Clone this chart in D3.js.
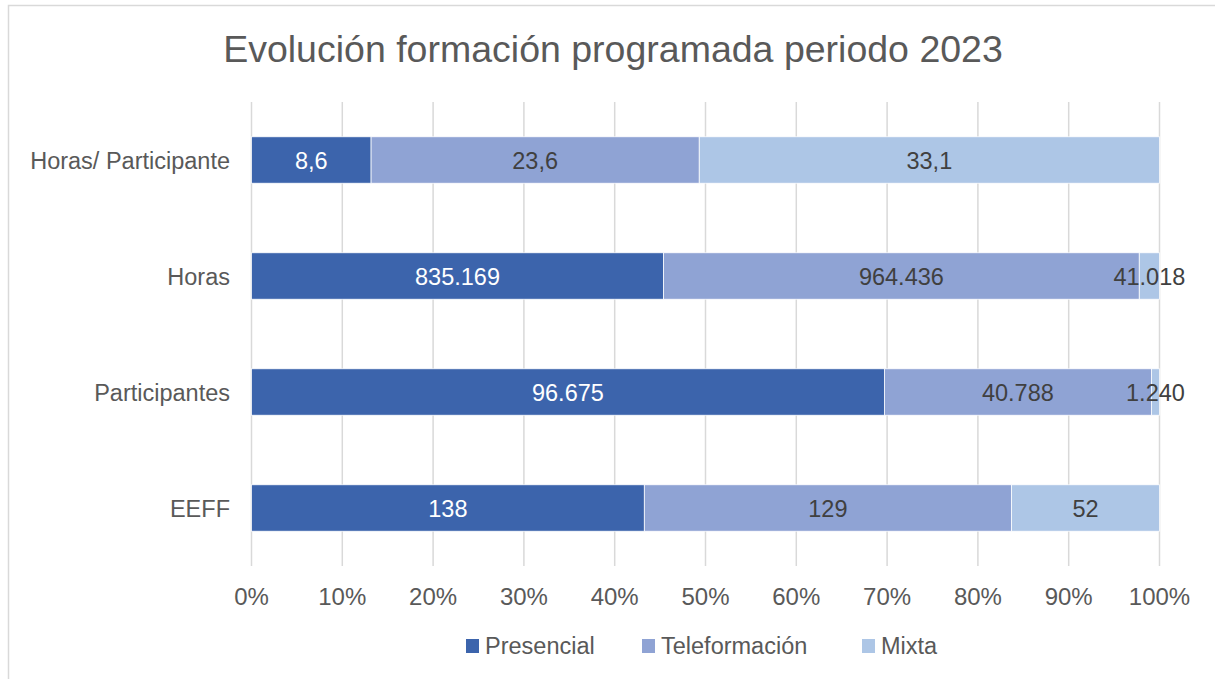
<!DOCTYPE html>
<html>
<head>
<meta charset="utf-8">
<script src="https://cdn.jsdelivr.net/npm/d3@7"></script>
<style>
  body { margin: 0; background: #fff; }
  svg text { font-family: "Liberation Sans", Arial, sans-serif; }
</style>
</head>
<body>
<svg id="chart" width="1215" height="679"></svg>
<script>
// data
var categories = ["Horas/ Participante", "Horas", "Participantes", "EEFF"];
var seriesNames = ["Presencial", "Teleformación", "Mixta"];
var presencial = [8.6, 835169, 96675, 138];
var teleformacion = [23.6, 964436, 40788, 129];
var mixta = [33.1, 41018, 1240, 52];
var tickLabels = ["0%", "10%", "20%", "30%", "40%", "50%", "60%", "70%", "80%", "90%", "100%"];

var colors = ["#3c64ac", "#8fa3d4", "#adc6e6"];
var labelColors = ["#ffffff", "#404040", "#404040"];

var svg = d3.select("#chart");
var margin = {top: 102, left: 251.5, right: 56, bottom: 113};
var width = 1159.5 - margin.left;

var es = d3.formatLocale({decimal: ",", thousands: ".", grouping: [3], currency: ["", "€"]});
function fmt(v) {
    return Number.isInteger(v) ? es.format(",d")(v) : es.format(",.1f")(v);
}

// chart border (only top/left visible in the crop)
svg.append("rect")
    .attr("x", 8.5).attr("y", 5.5)
    .attr("width", 1300).attr("height", 800)
    .attr("fill", "none")
    .attr("stroke", "#d9d9d9")
    .attr("stroke-width", 1.5);

svg.append("text")
    .attr("x", 613).attr("y", 62)
    .attr("text-anchor", "middle")
    .attr("font-size", 37.5)
    .attr("fill", "#595959")
    .text("Evolución formación programada periodo 2023");

var rows = categories.map(function(c, i) {
    return {cat: c, values: [presencial[i], teleformacion[i], mixta[i]]};
});

var x = d3.scaleLinear().domain([0, 1]).range([margin.left, margin.left + width]);
var y = d3.scaleBand().domain(categories).range([102, 566]).paddingInner(0.6).paddingOuter(0.3);

// gridlines
svg.append("g")
    .selectAll("line")
    .data(d3.range(0, 11))
    .enter().append("line")
    .attr("x1", function(d) { return x(d / 10); })
    .attr("x2", function(d) { return x(d / 10); })
    .attr("y1", 102).attr("y2", 566)
    .attr("stroke", "#d9d9d9")
    .attr("stroke-width", 1.5);

// x tick labels
svg.append("g")
    .selectAll("text")
    .data(tickLabels)
    .enter().append("text")
    .attr("x", function(d, i) { return x(i / 10); })
    .attr("y", 605)
    .attr("text-anchor", "middle")
    .attr("font-size", 24)
    .attr("fill", "#595959")
    .text(function(d) { return d; });

// category labels
svg.append("g")
    .selectAll("text")
    .data(categories)
    .enter().append("text")
    .attr("x", 230)
    .attr("y", function(d) { return y(d) + y.bandwidth() / 2 + 8.5; })
    .attr("text-anchor", "end")
    .attr("font-size", 23.5)
    .attr("fill", "#595959")
    .text(function(d) { return d; });

// stacked segments
var segs = [];
rows.forEach(function(r) {
    var total = d3.sum(r.values);
    var acc = 0;
    r.values.forEach(function(v, k) {
        segs.push({cat: r.cat, k: k, v: v, x0: acc / total, x1: (acc + v) / total});
        acc += v;
    });
});

var seg = svg.append("g").selectAll("g")
    .data(segs)
    .enter().append("g");

seg.append("rect")
    .attr("x", function(d) { return x(d.x0); })
    .attr("width", function(d) { return x(d.x1) - x(d.x0); })
    .attr("y", function(d) { return y(d.cat); })
    .attr("height", y.bandwidth())
    .attr("fill", function(d) { return colors[d.k]; })
    .attr("stroke", "#ffffff")
    .attr("stroke-width", 0.75);

seg.append("text")
    .attr("x", function(d) { return (x(d.x0) + x(d.x1)) / 2; })
    .attr("y", function(d) { return y(d.cat) + y.bandwidth() / 2 + 8.5; })
    .attr("text-anchor", "middle")
    .attr("font-size", 23.5)
    .attr("fill", function(d) { return labelColors[d.k]; })
    .text(function(d) { return fmt(d.v); });

// legend
var legendX = [466, 642, 862];
var legend = svg.append("g").selectAll("g")
    .data(seriesNames)
    .enter().append("g")
    .attr("transform", function(d, i) { return "translate(" + legendX[i] + ",639)"; });

legend.append("rect")
    .attr("width", 13).attr("height", 14)
    .attr("fill", function(d, i) { return colors[i]; });

legend.append("text")
    .attr("x", 19).attr("y", 14.5)
    .attr("font-size", 23.5)
    .attr("fill", "#595959")
    .text(function(d) { return d; });
</script>
</body>
</html>
